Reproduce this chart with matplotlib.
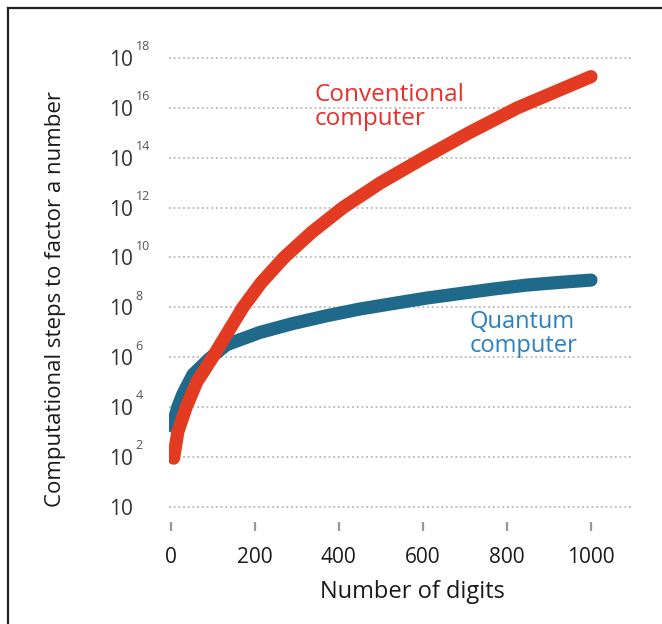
import matplotlib
matplotlib.use("Agg")
import matplotlib.pyplot as plt
from matplotlib.lines import Line2D

plt.rcParams['font.family'] = ['Open Sans', 'DejaVu Sans']

# Exponent scale: each gridline is one labelled power of ten
exp_ticks = [0, 2, 4, 6, 8, 10, 12, 14, 16, 18]
exp_sups = ["", "2", "4", "6", "8", "10", "12", "14", "16", "18"]
x_ticks = [0, 200, 400, 600, 800, 1000]

# Conventional computer (exponent position vs. number of digits)
conv_digits = [7, 17, 37, 62, 100, 136, 172, 216, 270, 335, 410, 500, 603, 710, 825, 1000]
conv_exp = [1.95, 3.0, 4.0, 5.0, 6.0, 7.0, 8.0, 9.0, 10.0, 11.0, 12.0, 13.0, 14.0, 15.0, 16.0, 17.25]

# Quantum computer
quant_digits = [4, 17, 29, 53, 93, 133, 212, 291, 371, 450, 529, 609, 688, 767, 847, 926, 1000]
quant_exp = [3.24, 4.0, 4.52, 5.3, 5.95, 6.5, 6.99, 7.35, 7.66, 7.93, 8.15, 8.37, 8.55, 8.73, 8.89, 9.0, 9.09]

fig = plt.figure(figsize=(6.62, 6.24), dpi=100)
ax = fig.add_axes([169 / 662, 1 - 522.2 / 624, 464 / 662, 479.2 / 624])

ax.set_xlim(-4, 1100)
ax.set_ylim(-0.62, 18.6)

for s in ax.spines.values():
    s.set_visible(False)

# dotted horizontal gridlines
for e in exp_ticks:
    ax.axhline(e, color="#b8b8b8", lw=1.3, ls=(0, (1, 1.6)), zorder=1)

ax.plot(quant_digits, quant_exp, color="#1f6a8b", lw=9.5, solid_capstyle="round",
        solid_joinstyle="round", zorder=3)
ax.plot(conv_digits, conv_exp, color="#e33a22", lw=9.5, solid_capstyle="round",
        solid_joinstyle="round", zorder=4)

ax.set_xticks(x_ticks)
ax.set_xticklabels([str(v) for v in x_ticks], fontsize=15, color="#1a1a1a")
ax.tick_params(axis="x", length=6.5, width=1.6, color="#999999", pad=11, direction="out")

ax.set_yticks(exp_ticks)
ax.set_yticklabels(["10"] * len(exp_ticks), fontsize=15, color="#333333")
ax.tick_params(axis="y", length=0, pad=26)
for e, s in zip(exp_ticks, exp_sups):
    if s:
        ax.annotate(s, xy=(0, e), xycoords=("axes fraction", "data"),
                    xytext=(-24, 8), textcoords="offset points",
                    fontsize=9, color="#555555", ha="left", va="center")

ax.set_xlabel("Number of digits", fontsize=17, color="#1a1a1a")
ax.xaxis.set_label_coords((412 - 169) / 464, (522.2 - 592) / 479.2)
ax.xaxis.label.set_va("center")

ax.set_ylabel("Computational steps to factor a number", fontsize=16, color="#1a1a1a")
ax.yaxis.set_label_coords((56 - 169) / 464, (522.2 - 299) / 479.2)
ax.yaxis.label.set_va("center")

ax.text(343, 16.03, "Conventional\ncomputer", color="#e8302a", fontsize=17.5,
        ha="left", va="center", linespacing=1.0)
ax.text(712, 6.92, "Quantum\ncomputer", color="#2a80c0", fontsize=17,
        ha="left", va="center", linespacing=1.0)

# frame lines along the top and left of the figure
fig.add_artist(Line2D([8 / 662, 8 / 662], [0, 1 - 8 / 624], color="#222222", lw=1.6))
fig.add_artist(Line2D([8 / 662, 1], [1 - 8 / 624, 1 - 8 / 624], color="#222222", lw=1.6))

fig.savefig("out.png", dpi=100, facecolor="white")
